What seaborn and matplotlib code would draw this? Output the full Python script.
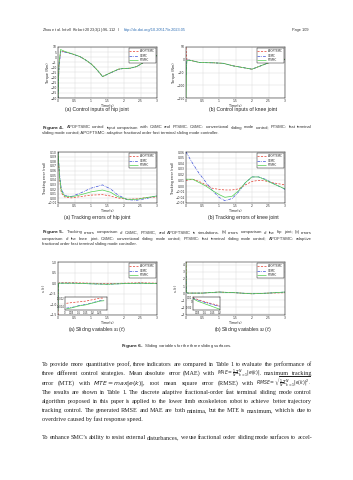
import re
import numpy as np
import pandas as pd
import seaborn as sns
import matplotlib.pyplot as plt

W, H = 353, 480

# ---- data ----
methods = ['APOFTSMC', 'CSMC', 'FTSMC']

# Fig 4a: hip control input (Nm)
t_u1 = [0, 0.03, 0.08, 0.21, 0.45, 0.67, 0.85, 1.02, 1.2, 1.35, 1.58, 1.83, 2.0, 2.18, 2.38, 2.55, 2.69, 2.85, 3.0]
u1_apo = [-40, -8, 6.0, 5.2, 3.0, 0.5, -3, -7, -13, -19, -15.5, -11.8, -11, -10.8, -9.2, -6, -2.2, 0, 1.5]
u1_csmc = [-40, -10, 5.5, 5.0, 3.0, 0.4, -3, -7, -13, -19, -15.6, -11.9, -11, -10.9, -9.3, -6, -2.1, 0, 1.4]
u1_fts = [-40, -6, 7.5, 5.6, 3.1, 0.6, -3, -7, -13, -19, -15.4, -11.7, -11, -10.8, -9.2, -6, -2.0, 0.1, 1.6]

# Fig 4b: knee control input (Nm)
t_u2 = [0, 0.01, 0.03, 0.12, 0.42, 0.83, 1.13, 1.43, 1.74, 2.0, 2.24, 2.5, 2.75, 3.0]
u2_apo = [48, 20, 0, -2, -11, -12, -14, -24, -31, -37, -25, -12, -1, 2]
u2_csmc = [-60, -20, 0, -2, -11, -12, -14, -24, -31, -37, -25, -12, -1, 2]
u2_fts = [-150, -40, -2, -2, -11, -12, -14, -24, -31, -37, -25, -12, -1, 2]

# Fig 5a: hip tracking error (rad)
t_e1 = [0, 0.05, 0.1, 0.2, 0.4, 0.7, 1.0, 1.35, 1.6, 1.8, 2.1, 2.4, 2.7, 3.0]
e1_apo = [0.1, 0.04, 0.012, 0.003, 0.001, 0.004, 0.007, 0.008, 0.005, 0.001, -0.002, -0.001, 0.002, 0.003]
e1_csmc = [0.1, 0.05, 0.02, 0.006, 0.004, 0.012, 0.022, 0.029, 0.02, 0.008, -0.003, -0.004, 0.0, 0.006]
e1_fts = [0.1, 0.045, 0.016, 0.005, 0.003, 0.008, 0.014, 0.018, 0.013, 0.004, -0.002, -0.002, 0.002, 0.005]

# Fig 5b: knee tracking error (rad)
t_e2 = [0, 0.2, 0.4, 0.6, 0.8, 1.0, 1.18, 1.4, 1.6, 1.8, 2.0, 2.2, 2.4, 2.6, 2.8, 3.0]
e2_apo = [0.01, 0.012, 0.008, 0.002, -0.004, -0.006, -0.007, -0.007, -0.005, 0.002, 0.008, 0.01, 0.009, 0.006, 0.004, 0.002]
e2_csmc = [0.06, 0.04, 0.022, 0.007, -0.008, -0.02, -0.026, -0.022, -0.01, 0.006, 0.016, 0.016, 0.012, 0.006, 0.0, -0.006]
e2_fts = [0.012, 0.012, 0.006, 0.0, -0.008, -0.015, -0.02, -0.018, -0.008, 0.006, 0.016, 0.016, 0.011, 0.005, 0.0, -0.005]

# Fig 6a/6b: sliding variables
t_s = [0, 0.005, 0.02, 0.05, 0.5, 1.0, 1.5, 2.0, 2.5, 3.0]
s1_apo = [-1.5, -0.3, 0.0, 0.02, 0.02, 0.0, -0.02, 0.0, 0.02, 0.0]
s1_csmc = [-1.2, -0.2, 0.0, 0.0, 0.0, -0.03, -0.05, -0.02, 0.0, -0.02]
s1_fts = [-1.3, -0.25, 0.0, 0.0, 0.0, -0.03, -0.05, -0.02, 0.0, -0.02]
s2_apo = [4.4, 1.0, 0.1, 0.0, 0.0, 0.15, 0.05, -0.1, 0.0, 0.05]
s2_csmc = [2.5, 0.8, 0.1, 0.0, 0.0, 0.15, 0.05, -0.1, 0.0, 0.15]
s2_fts = [4.4, 0.6, 0.1, 0.0, 0.0, 0.15, 0.05, -0.1, 0.0, 0.15]

# insets of Fig 6 (zoom on 0-0.3 s)
t_in1 = [0.01, 0.05, 0.1, 0.15, 0.2, 0.25, 0.28]
in1_apo = [-0.0032, -0.003, -0.0028, -0.0026, -0.0022, -0.0018, -0.0018]
in1_csmc = [-0.0045, -0.0043, -0.0038, -0.0035, -0.003, -0.0025, -0.0024]
in1_fts = [-0.0047, -0.0044, -0.0039, -0.0036, -0.0031, -0.0026, -0.0025]
t_in2 = [0.02, 0.05, 0.1, 0.15, 0.2]
in2_apo = [0.01, 0.005, -0.002, -0.008, -0.014]
in2_csmc = [0.008, 0.003, -0.004, -0.01, -0.016]
in2_fts = [0.007, 0.0, -0.008, -0.016, -0.024]

sns.set_theme(style="whitegrid")
plt.rcParams['font.family'] = ['DejaVu Sans']

palette = {'APOFTSMC': '#e33b2e', 'CSMC': '#3b4fd8', 'FTSMC': '#4fd04f'}
dashes = {'APOFTSMC': (3, 2), 'CSMC': (4, 1.5, 1, 1.5), 'FTSMC': (1, 0)}

fig = plt.figure(figsize=(W / 100, H / 100), dpi=100)
fig.patch.set_facecolor('white')
renderer = fig.canvas.get_renderer()


def box(x0, y0, x1, y1):
    return fig.add_axes([x0 / W, 1 - y1 / H, (x1 - x0) / W, (y1 - y0) / H])


def frame(t, a, b, c):
    rows = []
    for m, v in zip(methods, [a, b, c]):
        for ti, vi in zip(t, v):
            rows.append({'t': ti, 'v': vi, 'method': m})
    return pd.DataFrame(rows)


def panel(ax, df, ylabel, ylim, yticks, legend=True):
    sns.lineplot(data=df, x='t', y='v', hue='method', style='method',
                 palette=palette, dashes=dashes, linewidth=0.5, ax=ax,
                 legend=legend, hue_order=methods, style_order=methods)
    ax.set_xlim(0, 3)
    ax.set_ylim(*ylim)
    ax.set_xticks([0, 0.5, 1, 1.5, 2, 2.5, 3])
    ax.set_xticklabels(['0', '0.5', '1', '1.5', '2', '2.5', '3'])
    ax.set_yticks(yticks)
    ax.tick_params(labelsize=2.2, length=0, pad=1)
    ax.grid(color='#d8d8d8', linewidth=0.3)
    for s in ax.spines.values():
        s.set_color('black')
        s.set_linewidth(0.35)
    ax.set_xlabel('Time(s)', fontsize=2.4, labelpad=0.5)
    ax.set_ylabel(ylabel, fontsize=2.4, labelpad=0.5)
    if legend:
        ax.legend(loc='upper right', fontsize=2.0, frameon=True, fancybox=False,
                  edgecolor='black', framealpha=1, handlelength=3,
                  borderpad=0.3, labelspacing=0.2).get_frame().set_linewidth(0.3)


def inset(ax, xlim, ylim, xticks, yticks):
    ax.set_xlim(*xlim)
    ax.set_xticks(xticks)
    ax.set_xticklabels([f'{v:g}' for v in xticks])
    ax.set_yticks(yticks)
    ax.set_yticklabels([f'{v:g}' for v in yticks])
    ax.tick_params(labelsize=1.8, length=0, pad=0.5)
    ax.set_xlabel('')
    ax.grid(False)


LX = (58, 157)
RX = (186, 285)

ax = box(LX[0], 47, LX[1], 98)
panel(ax, frame(t_u1, u1_apo, u1_csmc, u1_fts), 'Torque (Nm)', (-40, 10), np.arange(-40, 11, 5))
ax = box(RX[0], 47, RX[1], 98)
panel(ax, frame(t_u2, u2_apo, u2_csmc, u2_fts), 'Torque (Nm)', (-150, 50), [-150, -100, -50, 0, 50])

ax = box(LX[0], 152, LX[1], 203)
panel(ax, frame(t_e1, e1_apo, e1_csmc, e1_fts), 'Tracking error (rad)', (-0.01, 0.1),
      [-0.01, 0, 0.01, 0.02, 0.03, 0.04, 0.05, 0.06, 0.07, 0.08, 0.09, 0.1])
ax = box(RX[0], 152, RX[1], 203)
panel(ax, frame(t_e2, e2_apo, e2_csmc, e2_fts), 'Tracking error (rad)', (-0.03, 0.06),
      [-0.03, -0.02, -0.01, 0, 0.01, 0.02, 0.03, 0.04, 0.05, 0.06])

ax = box(LX[0], 262, LX[1], 315)
panel(ax, frame(t_s, s1_apo, s1_csmc, s1_fts), '$s_1(t)$', (-1.5, 1.0), [-1.5, -1, -0.5, 0, 0.5, 1])
ins = box(65, 297, 107, 310)
panel(ins, frame(t_in1, in1_apo, in1_csmc, in1_fts), '', (-0.005, -0.0015), [-0.004, -0.002], legend=False)
inset(ins, (0, 0.3), (-0.005, -0.0015), [0, 0.05, 0.1, 0.15, 0.2, 0.25], [-0.004, -0.002])

ax = box(RX[0], 262, RX[1], 315)
panel(ax, frame(t_s, s2_apo, s2_csmc, s2_fts), '$s_2(t)$', (-3.1, 4.4), [-3, -2, -1, 0, 1, 2, 3, 4])
ins = box(193, 297, 220, 310)
panel(ins, frame(t_in2, in2_apo, in2_csmc, in2_fts), '', (-0.026, 0.012), [-0.02, 0, 0.01], legend=False)
inset(ins, (0.02, 0.2), (-0.026, 0.012), [0.05, 0.1, 0.15, 0.2], [-0.02, 0, 0.01])

# ---- page text ----


def natural_width(line, **kw):
    t = fig.text(0, 0, line, **kw)
    w = t.get_window_extent(renderer).width
    t.remove()
    return w


def justify(line, x0, x1, y, **kw):
    words = re.findall(r'(?:\$[^$]*\$|[^\s$])+', line)
    texts = []
    for w in words:
        k = dict(kw)
        if '\\frac' in w:
            k['fontsize'] = kw['fontsize'] * 0.75
        texts.append(fig.text(0, 1 - y / H, w, va='baseline', **k))
    widths = [t.get_window_extent(renderer).width for t in texts]
    gap = (x1 - x0 - sum(widths)) / max(len(words) - 1, 1)
    x = x0
    for t, w in zip(texts, widths):
        t.set_x(x / W)
        x += w + gap


def left(line, x, y, **kw):
    fig.text(x / W, 1 - y / H, line, va='baseline', **kw)


hdr = dict(fontsize=2.8, color='#333333', family='Liberation Sans')
left('Zhou et al. $\\it{Intell\\ Robot}$ 2023;3(1):96-112', 42, 31, **hdr)
left('I', 118, 31, **hdr)
left('http://dx.doi.org/10.20517/ir.2023.05', 124, 31, fontsize=2.8, color='#2f6fb5', family='Liberation Sans')
fig.text(309 / W, 1 - 31 / H, 'Page 109', ha='right', va='baseline', **hdr)

cap = dict(fontsize=3.6, color='#222222', family='Liberation Sans')
fig.text(97 / W, 1 - 111 / H, '(a) Control inputs of hip joint', ha='center', va='baseline', **cap)
fig.text(243 / W, 1 - 111 / H, '(b) Control inputs of knee joint', ha='center', va='baseline', **cap)
fig.text(97 / W, 1 - 219 / H, '(a) Tracking errors of hip joint', ha='center', va='baseline', **cap)
fig.text(243 / W, 1 - 219 / H, '(b) Tracking errors of knee joint', ha='center', va='baseline', **cap)
fig.text(97 / W, 1 - 331 / H, '(a) Sliding variables $s_1(t)$', ha='center', va='baseline', **cap)
fig.text(243 / W, 1 - 331 / H, '(b) Sliding variables $s_2(t)$', ha='center', va='baseline', **cap)

# figure captions: size chosen so the first line fills the 270 px column
f4 = '$\\bf{Figure\\ 4.}$ APOFTSMC control input comparison with CSMC and FTSMC. CSMC: conventional sliding mode control; FTSMC: fast terminal'
fc_size = 2.6 * 266 / natural_width(f4, fontsize=2.6, family='Liberation Sans')
fc = dict(fontsize=fc_size, color='#333333', family='Liberation Sans')
justify(f4, 42, 312, 128.5, **fc)
left('sliding mode control; APOFTSMC: adaptive fractional order fast terminal sliding mode controller.', 42, 134, **fc)
justify('$\\bf{Figure\\ 5.}$ Tracking errors comparison of CSMC, FTSMC, and APOFTSMC in simulations. (a) errors comparison of the hip joint; (b) errors',
        42, 312, 233.5, **fc)
justify('comparison of the knee joint. CSMC: conventional sliding mode control; FTSMC: fast terminal sliding mode control; APOFTSMC: adaptive',
        42, 312, 239.5, **fc)
left('fractional order fast terminal sliding mode controller.', 42, 245.5, **fc)
fig.text(177 / W, 1 - 346.5 / H, '$\\bf{Figure\\ 6.}$ Sliding variables for the three sliding surfaces.',
         ha='center', va='baseline', **fc)

b1 = 'To provide more quantitative proof, three indicators are compared in Table 1 to evaluate the performance of'
body_size = 4.0 * 266 / natural_width(b1, fontsize=4.0, family='Liberation Serif')
body = dict(fontsize=body_size, color='#222222', family='Liberation Serif')
lines = [
    b1,
    'three different control strategies. Mean absolute error (MAE) with $MAE = \\frac{1}{N}\\Sigma_{k=1}^{N}|e(k)|$, maximum tracking',
    'error (MTE) with $MTE = max|e(k)|$, root mean square error (RMSE) with $RMSE = \\sqrt{\\frac{1}{N}\\Sigma_{k=1}^{N}|e(k)|^2}$.',
    'The results are shown in Table 1. The discrete adaptive fractional-order fast terminal sliding mode control',
    'algorithm proposed in this paper is applied to the lower limb exoskeleton robot to achieve better trajectory',
    'tracking control. The generated RMSE and MAE are both minima, but the MTE is maximum, which is due to',
]
ys = [366, 375, 385, 394, 403, 412]
for ln, y in zip(lines, ys):
    justify(ln, 42, 312, y, **body)
left('overdrive caused by fast response speed.', 42, 421, **body)
justify('To enhance SMC\u2019s ability to resist external disturbances, we use fractional order sliding mode surfaces to accel-',
        42, 312, 439, **body)

fig.savefig('out.png', dpi=100, facecolor='white')
